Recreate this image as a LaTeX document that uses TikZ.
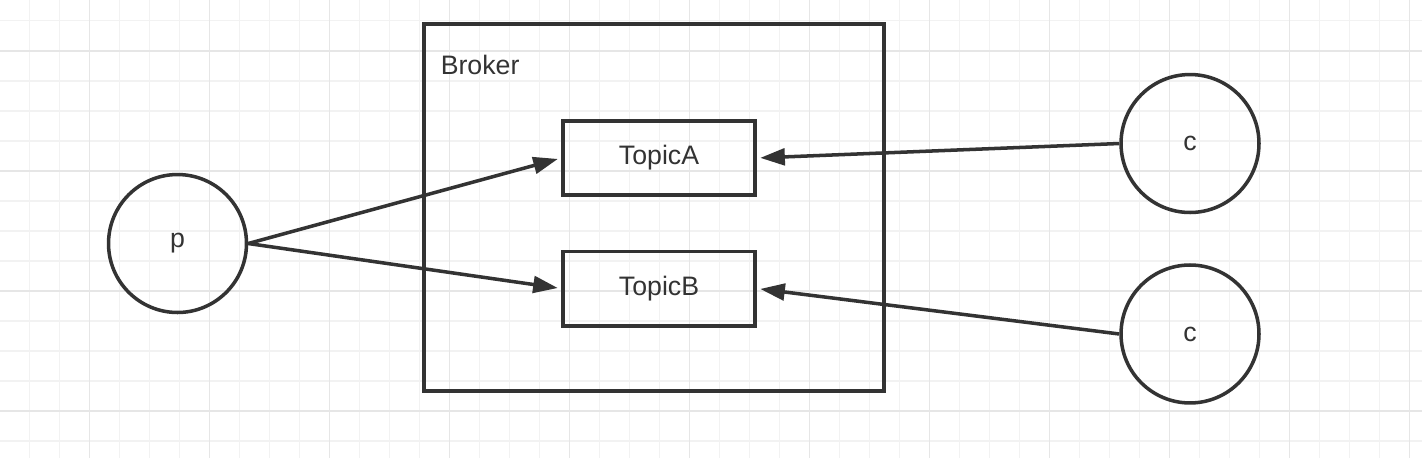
\documentclass[tikz,border=0pt]{standalone}
\usepackage{fontspec}
\setmainfont{Liberation Sans}
\usetikzlibrary{positioning, arrows.meta}
\definecolor{ink}{HTML}{333333}
\definecolor{gridminor}{HTML}{F2F2F2}
\definecolor{gridmajor}{HTML}{E6E6E6}

\begin{document}
\begin{tikzpicture}[
    x=0.02cm, y=-0.02cm,
    line width=2pt,
    every node/.style={text=ink, font=\fontsize{15.2}{18}\selectfont},
    actor/.style={circle, draw=ink, minimum size=2.76cm, inner sep=0pt},
    topic/.style={rectangle, draw=ink, minimum width=3.84cm, minimum height=1.49cm},
    broker/.style={rectangle, draw=ink, minimum width=9.2cm, minimum height=7.34cm},
    link/.style={draw=ink, shorten >=2pt, -{Triangle[length=14pt, width=9.5pt]}},
    minorline/.style={draw=gridminor, line width=0.9pt},
    majorline/.style={draw=gridmajor, line width=0.9pt}
]
\useasboundingbox[fill=white] (0,0) rectangle (1422,458);

% Background grid
\foreach \k in {1,...,47} {
    \draw[minorline] ({30*\k-0.7},0) -- ({30*\k-0.7},458);
}
\foreach \k in {0,...,14} {
    \draw[minorline] (0,{30*\k+20.7}) -- (1422,{30*\k+20.7});
}
\foreach \k in {0,...,11} {
    \draw[majorline] ({120*\k+89.3},0) -- ({120*\k+89.3},458);
}
\foreach \k in {0,...,3} {
    \draw[majorline] (0,{120*\k+50.7}) -- (1422,{120*\k+50.7});
}

% Producer
\node[actor] (p) at (177.5,243.5) {p};

% Broker with its topics
\node[topic] (topicA) at (659,158) {TopicA};
\node[topic, below=1.05cm of topicA] (topicB) {TopicB};
\node[broker] (broker) at (654,207.5) {};
\node[anchor=base west, inner sep=0pt] (brokername) at (439,74) {Broker};

% Consumers
\node[actor] (c1) at (1190,143.5) {c};
\node[actor, below=0.98cm of c1] (c2) {c};

% Connections
\draw[link] (p.east) -- (topicA.west);
\draw[link] (p.east) -- (topicB.west);
\draw[link] (c1.west) -- (topicA.east);
\draw[link] (c2.west) -- (topicB.east);

\end{tikzpicture}
\end{document}
